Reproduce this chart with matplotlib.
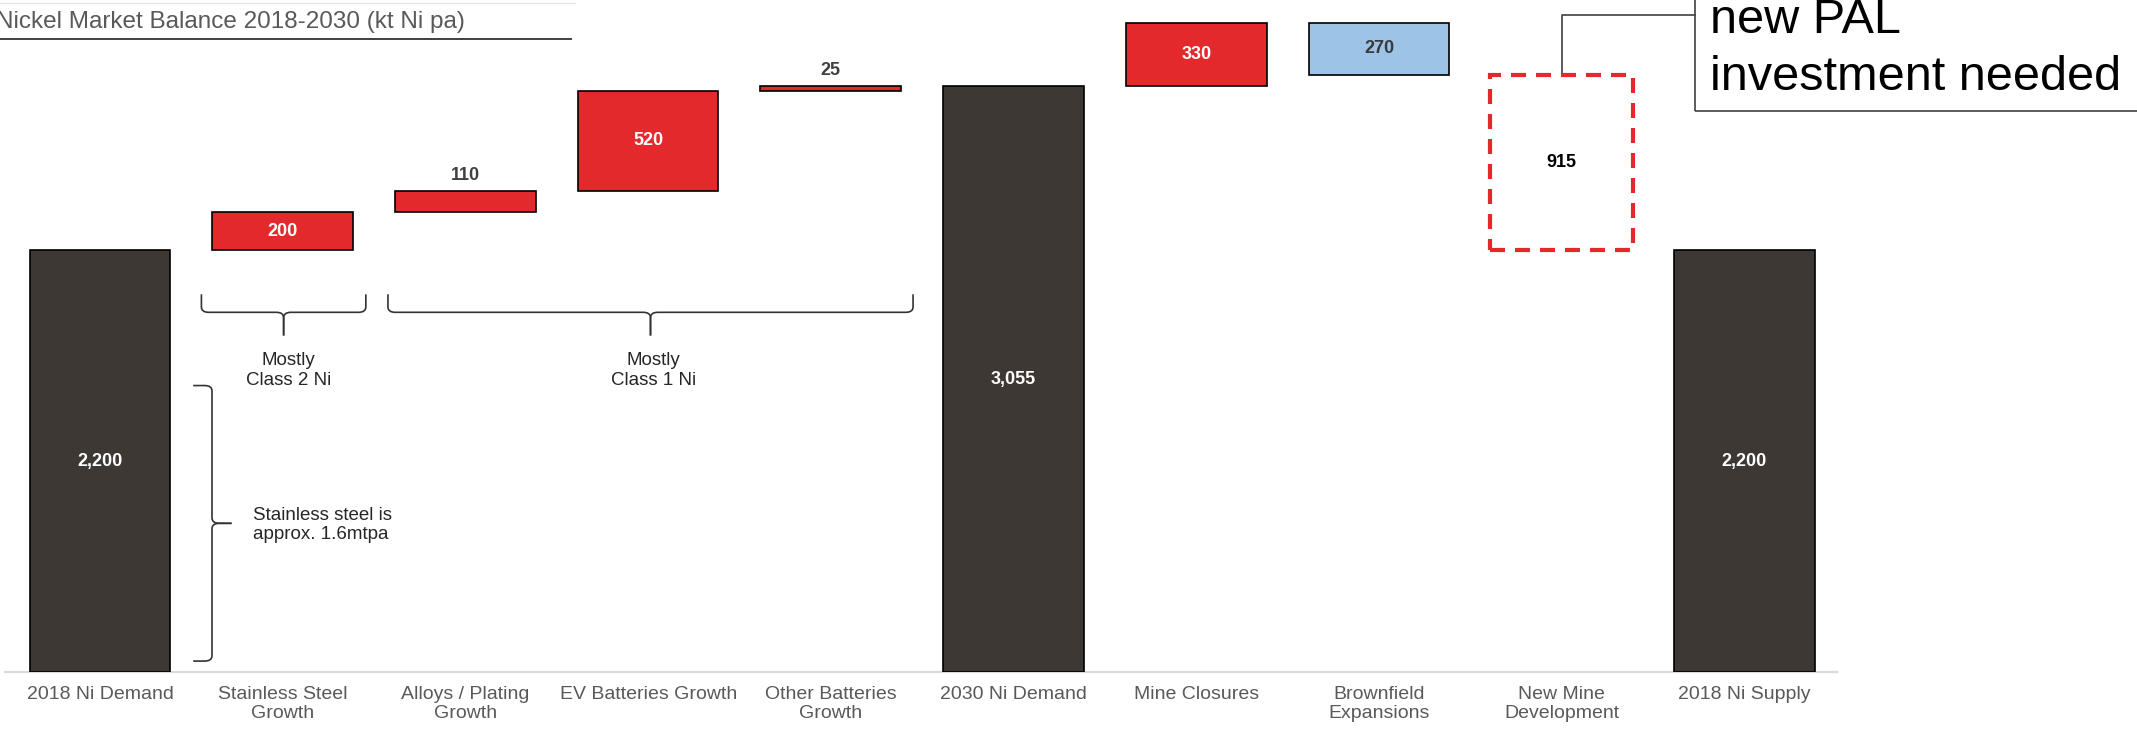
import matplotlib
matplotlib.use("Agg")
import matplotlib.pyplot as plt
from matplotlib.path import Path
from matplotlib.patches import PathPatch, Rectangle

plt.rcParams['font.family'] = ['Liberation Sans', 'DejaVu Sans']

# data (kt Ni pa)
categories = ['2018 Ni Demand', 'Stainless Steel\nGrowth', 'Alloys / Plating\nGrowth',
              'EV Batteries Growth', 'Other Batteries\nGrowth', '2030 Ni Demand',
              'Mine Closures', 'Brownfield\nExpansions', 'New Mine\nDevelopment', '2018 Ni Supply']
values = [2200, 200, 110, 520, 25, 3055, 330, 270, 915, 2200]
kinds = ['total', 'up', 'up', 'up', 'up', 'total', 'up', 'down', 'down', 'total']
labels = ['2,200', '200', '110', '520', '25', '3,055', '330', '270', '915', '2,200']

DARK = '#3e3835'
RED = '#e4292c'
BLUE = '#9dc3e6'
GREY = '#595959'

# waterfall bottoms
bottoms = []
run = 0
for v, k in zip(values, kinds):
    if k == 'total':
        bottoms.append(0)
        run = v
    elif k == 'up':
        bottoms.append(run)
        run += v
    else:
        run -= v
        bottoms.append(run)

face = []
for i, k in enumerate(kinds):
    if k == 'total':
        face.append(DARK)
    elif i == 7:
        face.append(BLUE)
    else:
        face.append(RED)

W, H = 2137, 734
fig = plt.figure(figsize=(W / 100, H / 100), dpi=100)
ax = fig.add_axes([5 / W, 62 / H, 1832 / W, 672 / H])
x = list(range(len(values)))

for i in x:
    if i == 8:
        ax.bar(i, values[i], bottom=bottoms[i], width=0.78, fill=False,
               edgecolor=RED, linewidth=3, linestyle=(0, (3.6, 2.4)), zorder=3)
    else:
        ax.bar(i, values[i], bottom=bottoms[i], width=0.77, color=face[i],
               edgecolor='black', linewidth=1.2, zorder=3)

# value labels
for i in x:
    mid = bottoms[i] + values[i] / 2
    if labels[i] in ('110', '25'):
        ax.annotate(labels[i], (i, bottoms[i] + values[i]), xytext=(0, 5),
                    textcoords='offset points', ha='center', va='bottom',
                    fontsize=13, fontweight='bold', color='#404040')
    else:
        if face[i] == BLUE:
            c = '#3a3a3a'
        elif i == 8:
            c = 'black'
        else:
            c = 'white'
        ax.text(i, mid, labels[i], ha='center', va='center', fontsize=13,
                fontweight='bold', color=c, zorder=4)

ax.set_xlim(-0.52, 9.507)
ax.set_ylim(0, 3505)
ax.set_xticks(x)
ax.set_xticklabels(categories, fontsize=14, color=GREY)
ax.tick_params(axis='x', length=0, pad=10)
ax.set_yticks([])
for s in ['top', 'left', 'right']:
    ax.spines[s].set_visible(False)
ax.spines['bottom'].set_color('#d9d9d9')
ax.spines['bottom'].set_linewidth(1.6)


def hbrace(x0, x1, ytop, ybar, ytip, rx=0.04, ry=28):
    xc = (x0 + x1) / 2
    for xe, sgn in ((x0, 1), (x1, -1)):
        verts = [(xe, ytop), (xe, ybar + ry), (xe, ybar), (xe + sgn * rx, ybar),
                 (xc - sgn * rx, ybar), (xc, ybar), (xc, ybar - ry), (xc, ytip)]
        codes = [Path.MOVETO, Path.LINETO, Path.CURVE3, Path.CURVE3,
                 Path.LINETO, Path.CURVE3, Path.CURVE3, Path.LINETO]
        ax.add_patch(PathPatch(Path(verts, codes), fill=False, edgecolor='#333333',
                               linewidth=1.2, clip_on=False))


def vbrace(y0, y1, xend, xbar, xtip, rx=0.04, ry=28):
    yc = (y0 + y1) / 2
    for ye, sgn in ((y0, 1), (y1, -1)):
        verts = [(xend, ye), (xbar - rx, ye), (xbar, ye), (xbar, ye + sgn * ry),
                 (xbar, yc - sgn * ry), (xbar, yc), (xbar + rx, yc), (xtip, yc)]
        codes = [Path.MOVETO, Path.LINETO, Path.CURVE3, Path.CURVE3,
                 Path.LINETO, Path.CURVE3, Path.CURVE3, Path.LINETO]
        ax.add_patch(PathPatch(Path(verts, codes), fill=False, edgecolor='#333333',
                               linewidth=1.2, clip_on=False))


hbrace(1 - 0.445, 1 + 0.455, 1970, 1876, 1755)
hbrace(2 - 0.424, 4 + 0.45, 1970, 1876, 1755)
ax.text(1.03, 1573, 'Mostly\nClass 2 Ni', ha='center', va='center', fontsize=13.5,
        color='#262626', linespacing=1.25)
ax.text(3.03, 1573, 'Mostly\nClass 1 Ni', ha='center', va='center', fontsize=13.5,
        color='#262626', linespacing=1.25)

vbrace(57, 1494, 0.51, 0.613, 0.72)
ax.text(0.84, 768, 'Stainless steel is\napprox. 1.6mtpa', ha='left', va='center',
        fontsize=13.5, color='#262626', linespacing=1.15)

# callout for new mine development
ax.plot([8, 8, 8.73], [bottoms[8] + values[8], 3427, 3427], color='#404040',
        linewidth=1.2, clip_on=False, zorder=2)
fig.patches.append(Rectangle((1695 / W, 1 - 111 / H), 0.5, 0.3, transform=fig.transFigure,
                             fill=False, edgecolor='#404040', linewidth=1.2))
fig.text(1710 / W, 1 - 33 / H, 'new PAL', fontsize=35, va='baseline', ha='left')
fig.text(1710 / W, 1 - 90 / H, 'investment needed', fontsize=35, va='baseline', ha='left')

# title
fig.text(-4 / W, 1 - 28 / H, 'Nickel Market Balance 2018-2030 (kt Ni pa)', fontsize=17.5,
         color=GREY, va='baseline', ha='left')
fig.add_artist(plt.Line2D([0, 571 / W], [1 - 39 / H, 1 - 39 / H], color='#404040',
                          linewidth=1.4, transform=fig.transFigure))
fig.add_artist(plt.Line2D([0, 575 / W], [1 - 3 / H, 1 - 3 / H], color='#e6e6e6',
                          linewidth=1.0, transform=fig.transFigure))

fig.savefig('out.png', dpi=100)
